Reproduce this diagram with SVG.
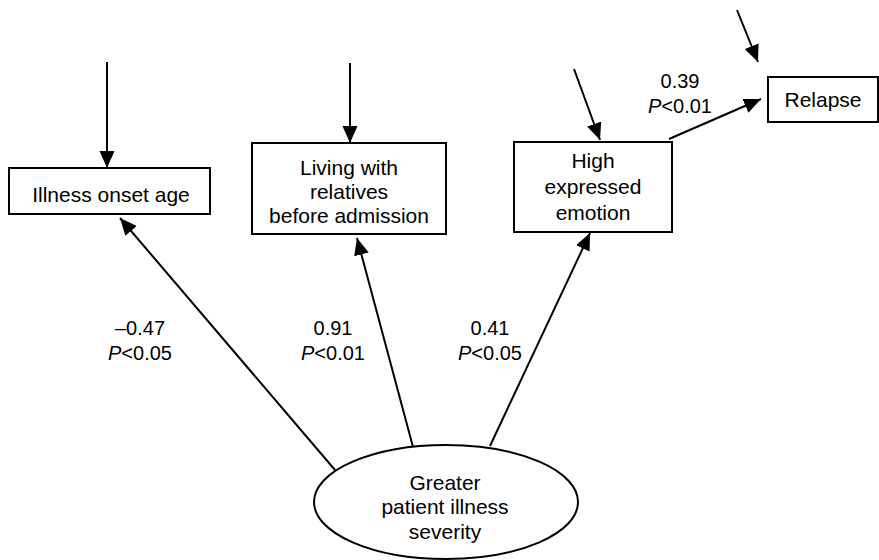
<svg xmlns="http://www.w3.org/2000/svg" width="879" height="560" viewBox="0 0 879 560">
  <style>
    .box { fill: #fff; stroke: #000; stroke-width: 2; }
    .node-text { font-family: "Liberation Sans", Arial, sans-serif; font-size: 21px; fill: #000; text-anchor: middle; }
    .lbl { font-family: "Liberation Sans", Arial, sans-serif; font-size: 20px; fill: #000; text-anchor: middle; }
    .edge { stroke: #000; stroke-width: 2; fill: none; marker-end: url(#arrow); }
  </style>
  <defs>
    <marker id="arrow" markerUnits="userSpaceOnUse" markerWidth="18" markerHeight="16" refX="17" refY="7.5" orient="auto">
      <path d="M0,0 L17,7.5 L0,15 z" fill="#000"/>
    </marker>
  </defs>
  <rect width="879" height="560" fill="#fff"/>

  <g id="connectors">
    <!-- error terms -->
    <line class="edge" x1="107" y1="62" x2="107" y2="168"/>
    <line class="edge" x1="350" y1="63" x2="350" y2="143"/>
    <line class="edge" x1="574" y1="69" x2="600" y2="140"/>
    <line class="edge" x1="737" y1="10" x2="758" y2="62"/>
    <!-- paths -->
    <line class="edge" x1="669" y1="139" x2="761" y2="99"/>
    <line class="edge" x1="335" y1="470" x2="120" y2="218"/>
    <line class="edge" x1="413" y1="447" x2="357" y2="238"/>
    <line class="edge" x1="490" y1="446" x2="590" y2="233"/>
    <!-- coefficients -->
    <text class="lbl" x="680" y="88">0.39</text>
    <text class="lbl" x="680" y="113"><tspan font-style="italic">P</tspan>&lt;0.01</text>
    <text class="lbl" x="140" y="335">–0.47</text>
    <text class="lbl" x="140" y="360"><tspan font-style="italic">P</tspan>&lt;0.05</text>
    <text class="lbl" x="333" y="335">0.91</text>
    <text class="lbl" x="333" y="360"><tspan font-style="italic">P</tspan>&lt;0.01</text>
    <text class="lbl" x="490" y="335">0.41</text>
    <text class="lbl" x="490" y="360"><tspan font-style="italic">P</tspan>&lt;0.05</text>
  </g>

  <g id="onset-age">
    <rect class="box" x="9" y="168" width="201" height="46"/>
    <text class="node-text" x="111" y="202">Illness onset age</text>
  </g>

  <g id="living-relatives">
    <rect class="box" x="252" y="143" width="194" height="91"/>
    <text class="node-text" x="349" y="175">Living with</text>
    <text class="node-text" x="349" y="199">relatives</text>
    <text class="node-text" x="349" y="223">before admission</text>
  </g>

  <g id="expressed-emotion">
    <rect class="box" x="514" y="142" width="158" height="90"/>
    <text class="node-text" x="593" y="168">High</text>
    <text class="node-text" x="593" y="194">expressed</text>
    <text class="node-text" x="593" y="220">emotion</text>
  </g>

  <g id="relapse">
    <rect class="box" x="768" y="77" width="110" height="45"/>
    <text class="node-text" x="823" y="107">Relapse</text>
  </g>

  <g id="illness-severity">
    <ellipse class="box" cx="446" cy="502" rx="132" ry="57"/>
    <text class="node-text" x="445" y="490">Greater</text>
    <text class="node-text" x="445" y="514">patient illness</text>
    <text class="node-text" x="445" y="539">severity</text>
  </g>
</svg>
